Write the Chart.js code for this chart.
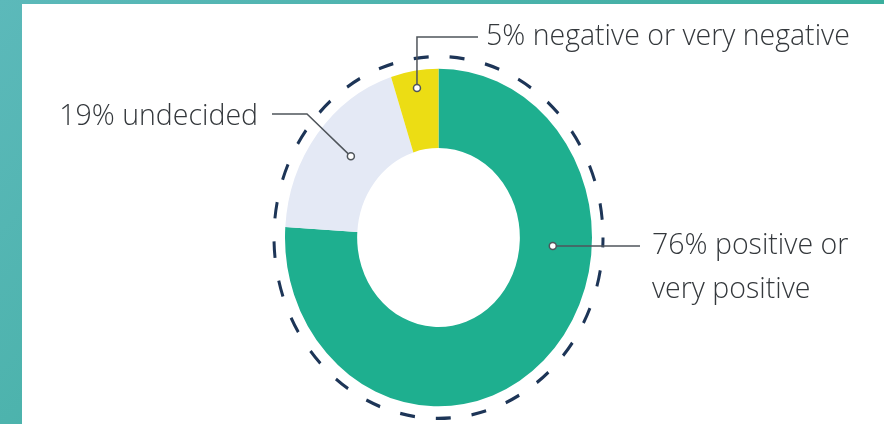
<!DOCTYPE html>
<html>
<head>
<meta charset="utf-8">
<script src="https://cdn.jsdelivr.net/npm/chart.js@4/dist/chart.umd.min.js"></script>
<style>
  html, body { margin: 0; padding: 0; }
  body {
    width: 884px; height: 424px; overflow: hidden;
    background: linear-gradient(135deg, #5cb9ba 0%, #45b0a6 50%, #27ad8f 100%);
    position: relative;
  }
  #box {
    position: absolute; left: 22px; top: 4px; width: 862px; height: 420px;
    background: #ffffff;
  }
</style>
</head>
<body>
<div id="box"><canvas id="donut" width="862" height="420"></canvas></div>
<script>
var categories = ['positive or very positive', 'undecided', 'negative or very negative'];
var values = [76, 19, 5];
var labelLines = [
    ['76% positive or', 'very positive'],
    ['19% undecided'],
    ['5% negative or very negative']
];
var colors = ['#1eaf8f', '#e4e9f5', '#ecdd14'];

// the original picture is a bit taller than wide
var stretchY = 1.1;

var ellipsePlugin = {
    id: 'ellipse',
    beforeDatasetsDraw: function(chart) {
        var arc = chart.getDatasetMeta(0).data[0];
        var ctx = chart.ctx;
        ctx.save();
        ctx.translate(arc.x, arc.y);
        ctx.scale(1, stretchY);
        ctx.translate(-arc.x, -arc.y);
    },
    afterDatasetsDraw: function(chart) {
        var arc = chart.getDatasetMeta(0).data[0];
        var ctx = chart.ctx;
        // dashed ring round the doughnut
        ctx.beginPath();
        ctx.setLineDash([15, 21]);
        ctx.lineDashOffset = 6;
        ctx.lineWidth = 3;
        ctx.strokeStyle = '#1d3557';
        ctx.arc(arc.x, arc.y, arc.outerRadius + 11, 0, Math.PI * 2);
        ctx.stroke();
        ctx.restore();
    }
};

var calloutPlugin = {
    id: 'callouts',
    afterDraw: function(chart) {
        var ctx = chart.ctx;
        var arcs = chart.getDatasetMeta(0).data;

        function dot(i, angle, frac) {
            var a = arcs[i];
            var r = a.innerRadius + (a.outerRadius - a.innerRadius) * frac;
            return { x: a.x + r * Math.cos(angle), y: a.y + r * Math.sin(angle) * stretchY };
        }
        function mid(a) { return (a.startAngle + a.endAngle) / 2; }

        var pPos = dot(0, 0.067, 0.46);
        var pUnd = dot(1, mid(arcs[1]) + 0.04, 0.46);
        var pNeg = dot(2, mid(arcs[2]), 0.78);

        ctx.save();
        ctx.strokeStyle = '#4f555b';
        ctx.lineWidth = 1.5;
        ctx.setLineDash([]);

        // positive
        ctx.beginPath();
        ctx.moveTo(pPos.x, pPos.y);
        ctx.lineTo(618, pPos.y);
        ctx.stroke();
        // undecided
        ctx.beginPath();
        ctx.moveTo(250, 110);
        ctx.lineTo(285, 110);
        ctx.lineTo(pUnd.x, pUnd.y);
        ctx.stroke();
        // negative
        ctx.beginPath();
        ctx.moveTo(pNeg.x, pNeg.y);
        ctx.lineTo(pNeg.x, 33);
        ctx.lineTo(456, 33);
        ctx.stroke();

        [pPos, pUnd, pNeg].forEach(function(p) {
            ctx.beginPath();
            ctx.arc(p.x, p.y, 3.5, 0, Math.PI * 2);
            ctx.fillStyle = '#ffffff';
            ctx.fill();
            ctx.lineWidth = 1.5;
            ctx.stroke();
        });

        ctx.fillStyle = '#34383c';
        ctx.font = '300 28.5px "Open Sans", "Lato", sans-serif';
        ctx.textBaseline = 'middle';
        ctx.textAlign = 'left';
        ctx.fillText(labelLines[0][0], 630, 242);
        ctx.fillText(labelLines[0][1], 630, 286);
        ctx.fillText(labelLines[2][0], 464, 33);
        ctx.textAlign = 'right';
        ctx.fillText(labelLines[1][0], 236, 113);
        ctx.restore();
    }
};

var ctx = document.getElementById('donut').getContext('2d');

var myChart = new Chart(ctx, {
    type: 'doughnut',
    data: {
        labels: categories,
        datasets: [{
            data: values,
            backgroundColor: colors,
            borderWidth: 0
        }]
    },
    options: {
        responsive: false,
        animation: false,
        cutout: '53%',
        rotation: 0,
        layout: {
            padding: { left: 263, right: 292, top: 80, bottom: 33 }
        },
        plugins: {
            legend: { display: false },
            tooltip: { enabled: false }
        }
    },
    plugins: [ellipsePlugin, calloutPlugin]
});
</script>
</body>
</html>
